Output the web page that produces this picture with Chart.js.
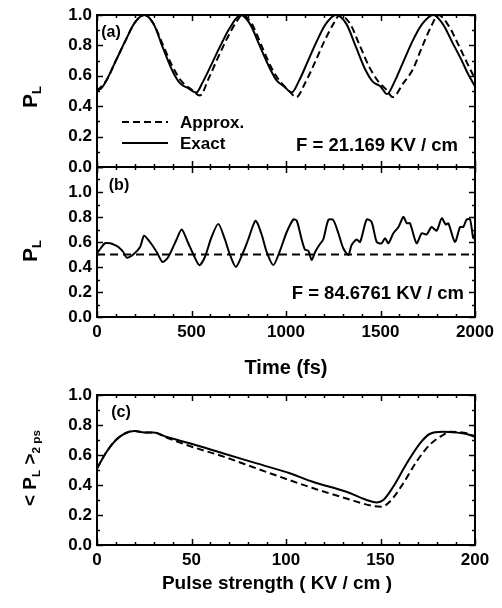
<!DOCTYPE html>
<html>
<head>
<meta charset="utf-8">
<script src="https://cdn.jsdelivr.net/npm/chart.js@4.4.1/dist/chart.umd.min.js"></script>
<style>
  body { margin: 0; background: #fff; }
  #wrap { position: relative; width: 502px; height: 608px; background: #fff; overflow: hidden; }
  canvas { position: absolute; left: 0; }
  .t { position: absolute; font-family: 'Liberation Sans', Arial, sans-serif; font-weight: bold; color: #000; white-space: nowrap; transform: translate(-50%, -50%); line-height: 1; }
  .r { transform: translate(-100%, -50%); }
  .l { transform: translate(0, -50%); }
  .rot { transform: translate(-50%, -50%) rotate(-90deg); }
  sub { font-size: 0.62em; vertical-align: -0.35em; }
</style>
</head>
<body>
<div id="wrap">
  <canvas id="chartA" width="502" height="192" style="top:-5px"></canvas>
  <canvas id="chartB" width="502" height="213" style="top:147px"></canvas>
  <canvas id="chartC" width="502" height="205" style="top:375px"></canvas>

  <div class="t" style="left:111px;top:32px;font-size:16px">(a)</div>
  <div class="t" style="left:119px;top:185px;font-size:16px">(b)</div>
  <div class="t" style="left:121px;top:412px;font-size:16px">(c)</div>

  <div class="t l" style="left:180px;top:122px;font-size:17px">Approx.</div>
  <div class="t l" style="left:180px;top:143px;font-size:17px">Exact</div>
  <div class="t r" style="left:458px;top:145px;font-size:18.5px">F = 21.169 KV / cm</div>
  <div class="t r" style="left:464px;top:293px;font-size:18.5px">F = 84.6761 KV / cm</div>

  <div class="t" style="left:286px;top:367px;font-size:20px">Time (fs)</div>
  <div class="t" style="left:277px;top:582px;font-size:19px">Pulse strength ( KV / cm )</div>

  <div class="t rot" style="left:31px;top:97px;font-size:21px">P<sub>L</sub></div>
  <div class="t rot" style="left:31px;top:251px;font-size:21px">P<sub>L</sub></div>
  <div class="t rot" style="left:31px;top:468px;font-size:19px">&lt; P<sub>L</sub> &gt;<sub>2 ps</sub></div>
</div>

<script>
// ---- panel (a): F = 21.169 KV/cm ----
const timeExactA = [0, 25, 50, 100, 150, 200, 250, 300, 350, 400, 440, 480, 525, 560, 600, 650, 700, 760, 810, 860, 910, 950, 990, 1030, 1070, 1110, 1160, 1210, 1265, 1320, 1370, 1420, 1460, 1500, 1535, 1570, 1620, 1670, 1720, 1780, 1830, 1880, 1930, 1960, 2000];
const exactA = [0.50, 0.52, 0.57, 0.70, 0.83, 0.95, 1.00, 0.94, 0.78, 0.63, 0.55, 0.52, 0.49, 0.56, 0.66, 0.79, 0.91, 1.00, 0.94, 0.80, 0.66, 0.57, 0.53, 0.49, 0.57, 0.68, 0.82, 0.94, 1.00, 0.94, 0.79, 0.64, 0.56, 0.53, 0.48, 0.55, 0.69, 0.83, 0.94, 1.00, 0.94, 0.82, 0.70, 0.62, 0.53];
const timeApproxA = [0, 50, 100, 150, 200, 250, 300, 350, 400, 450, 500, 545, 590, 640, 690, 740, 770, 820, 870, 920, 970, 1010, 1055, 1100, 1150, 1200, 1250, 1285, 1340, 1390, 1440, 1490, 1530, 1565, 1620, 1670, 1720, 1770, 1805, 1860, 1910, 1960, 2000];
const approxA = [0.50, 0.57, 0.70, 0.83, 0.95, 1.00, 0.94, 0.80, 0.66, 0.56, 0.51, 0.47, 0.58, 0.72, 0.85, 0.96, 1.00, 0.94, 0.80, 0.66, 0.56, 0.51, 0.46, 0.55, 0.68, 0.82, 0.94, 1.00, 0.94, 0.80, 0.66, 0.56, 0.51, 0.46, 0.55, 0.64, 0.79, 0.93, 1.00, 0.93, 0.81, 0.68, 0.58];

// ---- panel (b): F = 84.6761 KV/cm ----
const timeExactB = [0, 20, 42, 69, 95, 113, 139, 157, 192, 228, 249, 280, 316, 347, 377, 421, 448, 483, 510, 541, 571, 606, 642, 677, 703, 735, 774, 800, 839, 871, 898, 933, 968, 1004, 1039, 1057, 1083, 1100, 1118, 1136, 1154, 1176, 1197, 1224, 1250, 1277, 1303, 1330, 1347, 1374, 1392, 1427, 1453, 1480, 1506, 1524, 1542, 1568, 1595, 1621, 1639, 1656, 1691, 1718, 1744, 1770, 1797, 1824, 1845, 1859, 1894, 1921, 1938, 1956, 1974, 1991, 2000];
const exactB = [0.51, 0.55, 0.59, 0.59, 0.575, 0.56, 0.52, 0.475, 0.50, 0.56, 0.65, 0.60, 0.52, 0.44, 0.48, 0.62, 0.70, 0.59, 0.50, 0.415, 0.48, 0.64, 0.745, 0.62, 0.50, 0.40, 0.52, 0.62, 0.77, 0.66, 0.52, 0.415, 0.53, 0.68, 0.78, 0.77, 0.62, 0.54, 0.53, 0.456, 0.52, 0.576, 0.62, 0.776, 0.776, 0.67, 0.55, 0.496, 0.576, 0.62, 0.60, 0.78, 0.76, 0.60, 0.59, 0.63, 0.59, 0.67, 0.72, 0.80, 0.75, 0.75, 0.59, 0.67, 0.66, 0.72, 0.69, 0.79, 0.74, 0.75, 0.60, 0.72, 0.72, 0.78, 0.78, 0.63, 0.66];
const timeApproxB = [0, 2000];
const approxB = [0.5, 0.5];

// ---- panel (c): time-averaged P_L vs pulse strength ----
const fieldExactC = [0, 5, 10, 15, 20, 25, 30, 37, 49, 67, 84.5, 102, 114.5, 132, 142.7, 148, 151.5, 156.8, 163.9, 170.9, 176, 183, 190, 195.6, 200];
const exactC = [0.51, 0.62, 0.70, 0.745, 0.76, 0.75, 0.75, 0.72, 0.678, 0.61, 0.544, 0.478, 0.42, 0.355, 0.30, 0.284, 0.30, 0.39, 0.545, 0.678, 0.74, 0.755, 0.75, 0.74, 0.72];
const fieldApproxC = [0, 5, 10, 15, 20, 25, 30, 37, 49, 67, 84.5, 96.8, 114.5, 132, 146, 150.6, 155, 162, 169, 176, 183, 187, 195.6, 200];
const approxC = [0.51, 0.62, 0.70, 0.745, 0.76, 0.75, 0.75, 0.715, 0.66, 0.589, 0.51, 0.455, 0.378, 0.31, 0.26, 0.255, 0.29, 0.41, 0.555, 0.667, 0.733, 0.755, 0.745, 0.725];

// tick labels
const timeTicks = [0, 500, 1000, 1500, 2000];
const fieldTicks = [0, 50, 100, 150, 200];
const pTicks = [0, 0.2, 0.4, 0.6, 0.8, 1.0];

const FONT = "'Liberation Sans', Arial, sans-serif";

function pts(xs, ys) {
  return xs.map((x, i) => ({ x: x, y: ys[i] }));
}

// inward ticks on all four sides + box frame
const frameTicks = {
  id: 'frameTicks',
  afterDraw(chart, args, opts) {
    const { ctx, chartArea: { left, right, top, bottom }, scales: { x, y } } = chart;
    ctx.save();
    ctx.strokeStyle = '#000';
    ctx.lineWidth = 1.5;
    const seg = (x1, y1, x2, y2) => { ctx.beginPath(); ctx.moveTo(x1, y1); ctx.lineTo(x2, y2); ctx.stroke(); };
    const isMajor = (v, step) => Math.abs(v / step - Math.round(v / step)) < 1e-6;
    for (let i = 0; x.min + i * opts.xMinor <= x.max + 1e-9; i++) {
      const v = x.min + i * opts.xMinor;
      const px = Math.round(x.getPixelForValue(v)) + 0.5;
      const len = isMajor(v, opts.xMajor) ? 6 : 3;
      seg(px, bottom, px, bottom - len);
      seg(px, top, px, top + len);
    }
    for (let i = 0; y.min + i * opts.yMinor <= y.max + 1e-9; i++) {
      const v = y.min + i * opts.yMinor;
      const py = Math.round(y.getPixelForValue(v)) + 0.5;
      const len = isMajor(v, opts.yMajor) ? 6 : 3;
      seg(left, py, left + len, py);
      seg(right, py, right - len, py);
    }
    ctx.lineWidth = 2;
    ctx.strokeRect(left, top, right - left, bottom - top);

    if (opts.legend) {
      // legend samples, positioned in canvas coordinates of panel (a)
      const ly1 = top + 107, ly2 = top + 128;
      ctx.lineWidth = 2;
      ctx.setLineDash([7, 4]);
      seg(122, ly1, 168, ly1);
      ctx.setLineDash([]);
      seg(122, ly2, 168, ly2);
    }
    ctx.restore();
  }
};

function makePanel(id, cfg) {
  return new Chart(document.getElementById(id), {
    type: 'line',
    data: { datasets: cfg.datasets },
    options: {
      responsive: false,
      animation: false,
      layout: { padding: { top: 20, right: 27, bottom: 0, left: 0 } },
      plugins: {
        legend: { display: false },
        tooltip: { enabled: false },
        frameTicks: cfg.ticks
      },
      elements: { point: { radius: 0 } },
      scales: {
        x: {
          type: 'linear',
          min: cfg.xMin, max: cfg.xMax,
          grid: { display: false, drawTicks: false },
          border: { display: false },
          afterBuildTicks: s => { s.ticks = cfg.xTicks.map(v => ({ value: v })); },
          afterFit: s => { s.height = cfg.xHeight; },
          ticks: {
            display: cfg.xLabels,
            padding: 5,
            color: '#000',
            maxRotation: 0,
            font: { family: FONT, weight: 'bold', size: 17 },
            callback: v => String(v)
          }
        },
        y: {
          type: 'linear',
          min: 0, max: cfg.yMax,
          grid: { display: false, drawTicks: false },
          border: { display: false },
          afterBuildTicks: s => { s.ticks = pTicks.map(v => ({ value: v })); },
          afterFit: s => { s.width = 97; },
          ticks: {
            padding: 5,
            color: '#000',
            font: { family: FONT, weight: 'bold', size: 17 },
            callback: v => Number(v).toFixed(1)
          }
        }
      }
    },
    plugins: [frameTicks]
  });
}

makePanel('chartA', {
  xHeight: 20, xMin: 0, xMax: 2000, yMax: 1.0, xTicks: timeTicks, xLabels: false,
  ticks: { xMinor: 100, xMajor: 500, yMinor: 0.1, yMajor: 0.2, legend: true },
  datasets: [
    { label: 'Approx.', data: pts(timeApproxA, approxA), borderColor: '#000', borderWidth: 2, borderDash: [7, 4], cubicInterpolationMode: 'monotone' },
    { label: 'Exact', data: pts(timeExactA, exactA), borderColor: '#000', borderWidth: 2, cubicInterpolationMode: 'monotone' }
  ]
});

makePanel('chartB', {
  xHeight: 43, xMin: 0, xMax: 2000, yMax: 1.2, xTicks: timeTicks, xLabels: true,
  ticks: { xMinor: 100, xMajor: 500, yMinor: 0.1, yMajor: 0.2 },
  datasets: [
    { label: 'Approx.', data: pts(timeApproxB, approxB), borderColor: '#000', borderWidth: 2, borderDash: [8, 5] },
    { label: 'Exact', data: pts(timeExactB, exactB), borderColor: '#000', borderWidth: 2, tension: 0.25 }
  ]
});

makePanel('chartC', {
  xHeight: 35, xMin: 0, xMax: 200, yMax: 1.0, xTicks: fieldTicks, xLabels: true,
  ticks: { xMinor: 10, xMajor: 50, yMinor: 0.1, yMajor: 0.2 },
  datasets: [
    { label: 'Approx.', data: pts(fieldApproxC, approxC), borderColor: '#000', borderWidth: 2, borderDash: [7, 4], cubicInterpolationMode: 'monotone' },
    { label: 'Exact', data: pts(fieldExactC, exactC), borderColor: '#000', borderWidth: 2, cubicInterpolationMode: 'monotone' }
  ]
});
</script>
</body>
</html>
